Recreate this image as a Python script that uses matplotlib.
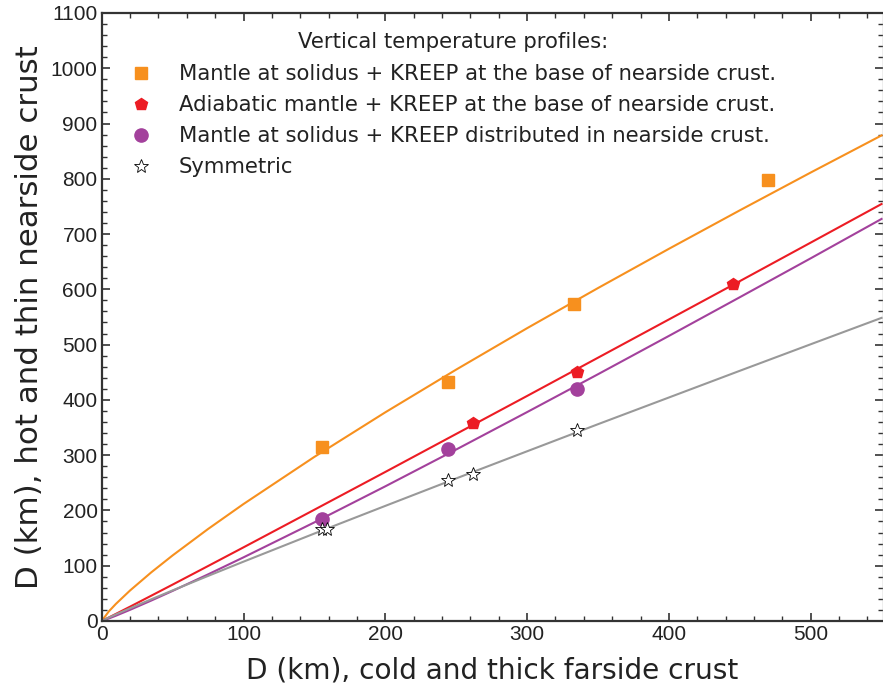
import matplotlib
matplotlib.use("Agg")
import matplotlib.pyplot as plt
from matplotlib.ticker import MultipleLocator

# measured points (km)
solidus_base_x = [155, 244, 333, 470]
solidus_base_y = [315, 433, 573, 797]
adiabatic_x = [262, 335, 445]
adiabatic_y = [358, 450, 609]
distributed_x = [155, 244, 335]
distributed_y = [184, 311, 420]
symmetric_x = [155, 159, 244, 262, 335]
symmetric_y = [166, 166, 255, 266, 345]

# fitted curves
curve_x = [0, 5, 10, 20, 35, 50, 75, 100, 150, 200, 250, 300, 350, 400, 450, 500, 550]
solidus_base_fit = [0, 17.3, 30.9, 55.2, 88.1, 118.6, 166.4, 211.6, 296.9, 377.5,
                    454.8, 529.7, 602.3, 673.3, 742.9, 811.3, 878.5]
adiabatic_fit = [0, 6.3, 12.8, 25.9, 45.8, 65.8, 99.4, 133.2, 201.3, 269.6,
                 338.4, 407.1, 476.3, 545.5, 614.8, 684.5, 754.4]
distributed_fit = [0, 4.5, 9.5, 20.2, 37.0, 54.4, 84.3, 115.1, 178.4, 243.6,
                   310.2, 377.9, 446.4, 515.7, 585.7, 656.1, 727.4]
symmetric_fit = [0, 6.1, 11.9, 23.0, 39.3, 55.3, 81.5, 107.3, 158.2, 208.2,
                 257.9, 307.0, 356.0, 404.3, 452.6, 500.6, 548.4]

c_orange = "#F7901E"
c_red = "#EC1C24"
c_purple = "#A3419C"
c_gray = "#999999"
txt = "#222222"

fig = plt.figure(figsize=(8.83, 6.86), dpi=100)
ax = fig.add_axes([0.1152, 0.0948, 0.8848, 0.8863])

ax.plot(curve_x, solidus_base_fit, color=c_orange, lw=1.5)
ax.plot(curve_x, adiabatic_fit, color=c_red, lw=1.5)
ax.plot(curve_x, distributed_fit, color=c_purple, lw=1.5)
ax.plot(curve_x, symmetric_fit, color=c_gray, lw=1.5)

ax.plot(solidus_base_x, solidus_base_y, "s", color=c_orange, ms=9, ls="none",
        label="Mantle at solidus + KREEP at the base of nearside crust.")
ax.plot(adiabatic_x, adiabatic_y, "p", color=c_red, ms=9, ls="none",
        label="Adiabatic mantle + KREEP at the base of nearside crust.")
ax.plot(distributed_x, distributed_y, "o", color=c_purple, ms=9.5, ls="none",
        label="Mantle at solidus + KREEP distributed in nearside crust.")
ax.plot(symmetric_x, symmetric_y, "*", mfc="white", mec="black", mew=0.6, ms=10, ls="none",
        label="Symmetric")

ax.set_xlim(0, 551)
ax.set_ylim(0, 1100)
ax.xaxis.set_major_locator(MultipleLocator(100))
ax.xaxis.set_minor_locator(MultipleLocator(20))
ax.yaxis.set_major_locator(MultipleLocator(100))
ax.yaxis.set_minor_locator(MultipleLocator(20))
ax.tick_params(which="both", direction="in", top=True, right=True, color="#333333")
ax.tick_params(which="major", length=6, width=1.2, pad=3,
               labelsize=15, labelcolor=txt, labelfontfamily="Liberation Sans")
ax.tick_params(which="minor", length=3.5, width=1.0)
for side in ["left", "bottom", "top"]:
    ax.spines[side].set_linewidth(1.6)
    ax.spines[side].set_color("#333333")
ax.spines["right"].set_color("#aaaaaa")
ax.spines["right"].set_linewidth(1.0)

ax.set_xlabel("D (km), cold and thick farside crust", fontsize=20.2, color=txt, labelpad=9)
ax.set_ylabel("D (km), hot and thin nearside crust", fontsize=22.2, color=txt, labelpad=5)

leg = ax.legend(loc="upper left", bbox_to_anchor=(0.02, 0.99), frameon=False, fontsize=15.2,
                title="Vertical temperature profiles:", title_fontsize=15.2,
                handletextpad=1.3, labelspacing=0.52, handlelength=1.0, borderaxespad=0.2)
for t in leg.get_texts():
    t.set_color(txt)
leg.get_title().set_color(txt)
leg._legend_box.sep = 9

fig.savefig("out.png", dpi=100)
